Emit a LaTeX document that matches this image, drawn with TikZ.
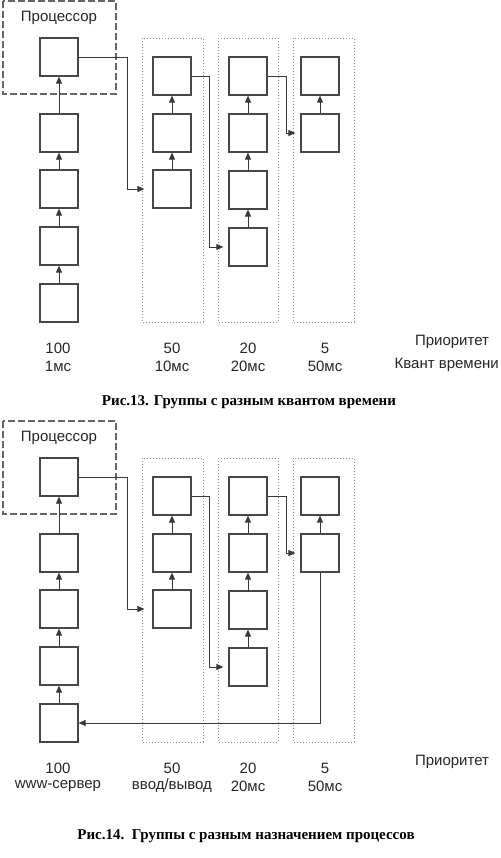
\documentclass[tikz,border=0pt]{standalone}
\usepackage{fontspec}
\setmainfont{Liberation Sans}
\newfontfamily\capfont{Liberation Serif}
\usetikzlibrary{arrows.meta}
\tikzset{
 pbox/.style={draw=black!72, line width=1.2pt, minimum width=38pt, minimum height=38pt, inner sep=0pt},
 grp/.style={draw=black!45, dash pattern=on 0.8pt off 2.2pt, line width=0.7pt},
 cpu/.style={draw=black!60, line width=1.2pt, dash pattern=on 7pt off 3pt},
 conn/.style={draw=black!78, line width=0.9pt, -{Triangle[length=7pt,width=6pt]}},
 lbl/.style={font=\fontsize{15}{17}\selectfont, inner sep=0pt, text=black!85},
 captext/.style={font=\capfont\bfseries\fontsize{15}{17}\selectfont, inner sep=0pt}
}
\newcommand\groupsdiagram[1]{%
 \draw[cpu] (3pt,-1pt) rectangle (116pt,-94pt);
 \node[lbl] (#1cpu) at (59pt,-18pt) {Процессор};
 \draw[grp] (142pt,-38pt) rectangle (203pt,-322pt);
 \draw[grp] (218pt,-38pt) rectangle (278pt,-322pt);
 \draw[grp] (293pt,-38pt) rectangle (354pt,-322pt);
 \node[pbox] (#1L1) at (59pt,-57pt) {};
 \node[pbox] (#1L2) at (59pt,-133pt) {};
 \node[pbox] (#1L3) at (59pt,-189pt) {};
 \node[pbox] (#1L4) at (59pt,-246pt) {};
 \node[pbox] (#1L5) at (59pt,-303pt) {};
 \node[pbox] (#1A1) at (172pt,-76pt) {};
 \node[pbox] (#1A2) at (172pt,-133pt) {};
 \node[pbox] (#1A3) at (172pt,-189pt) {};
 \node[pbox] (#1B1) at (248pt,-76pt) {};
 \node[pbox] (#1B2) at (248pt,-133pt) {};
 \node[pbox] (#1B3) at (248pt,-190pt) {};
 \node[pbox] (#1B4) at (248pt,-247pt) {};
 \node[pbox] (#1C1) at (320pt,-76pt) {};
 \node[pbox] (#1C2) at (320pt,-133pt) {};
 \draw[conn] (#1L2) -- (#1L1);
 \draw[conn] (#1L3) -- (#1L2);
 \draw[conn] (#1L4) -- (#1L3);
 \draw[conn] (#1L5) -- (#1L4);
 \draw[conn] (#1A2) -- (#1A1);
 \draw[conn] (#1A3) -- (#1A2);
 \draw[conn] (#1B2) -- (#1B1);
 \draw[conn] (#1B3) -- (#1B2);
 \draw[conn] (#1B4) -- (#1B3);
 \draw[conn] (#1C2) -- (#1C1);
 \draw[conn] (#1L1.east) -- ++(49pt,0pt) |- ([xshift=-8pt]#1A3.west);
 \draw[conn] (#1A1.east) -- ++(18pt,0pt) |- ([xshift=-5pt]#1B4.west);
 \draw[conn] (#1B1.east) -- ++(19pt,0pt) |- ([xshift=-5pt]#1C2.west);
}
\begin{document}
\begin{tikzpicture}
\useasboundingbox (0pt,0pt) rectangle (500pt,-858pt);
\begin{scope}
 \groupsdiagram{t}
 \node[lbl] (tp1) at (58pt,-348pt) {100};
 \node[lbl] (tq1) at (58pt,-366pt) {1мс};
 \node[lbl] (tp2) at (172pt,-348pt) {50};
 \node[lbl] (tq2) at (172pt,-366pt) {10мс};
 \node[lbl] (tp3) at (248pt,-348pt) {20};
 \node[lbl] (tq3) at (248pt,-366pt) {20мс};
 \node[lbl] (tp4) at (325pt,-348pt) {5};
 \node[lbl] (tq4) at (325pt,-366pt) {50мс};
 \node[lbl] (tpr) at (452pt,-342pt) {Приоритет};
 \node[lbl, anchor=east] (tqv) at (499pt,-365pt) {Квант времени};
 \node[captext] (tcap) at (249pt,-402pt) {Рис.13. Группы с разным квантом времени};
\end{scope}
\begin{scope}[yshift=-420pt]
 \groupsdiagram{b}
 \draw[conn] (bC2.south) |- (bL5.east);
 \node[lbl] (bp1) at (58pt,-348pt) {100};
 \node[lbl] (bq1) at (58pt,-366pt) {www-сервер};
 \node[lbl] (bp2) at (172pt,-348pt) {50};
 \node[lbl] (bq2) at (172pt,-366pt) {ввод/вывод};
 \node[lbl] (bp3) at (248pt,-348pt) {20};
 \node[lbl] (bq3) at (248pt,-366pt) {20мс};
 \node[lbl] (bp4) at (325pt,-348pt) {5};
 \node[lbl] (bq4) at (325pt,-366pt) {50мс};
 \node[lbl] (bpr) at (452pt,-342pt) {Приоритет};
 \node[captext] (bcap) at (246pt,-416pt) {Рис.14.\ \ Группы с разным назначением процессов};
\end{scope}
\end{tikzpicture}
\end{document}
